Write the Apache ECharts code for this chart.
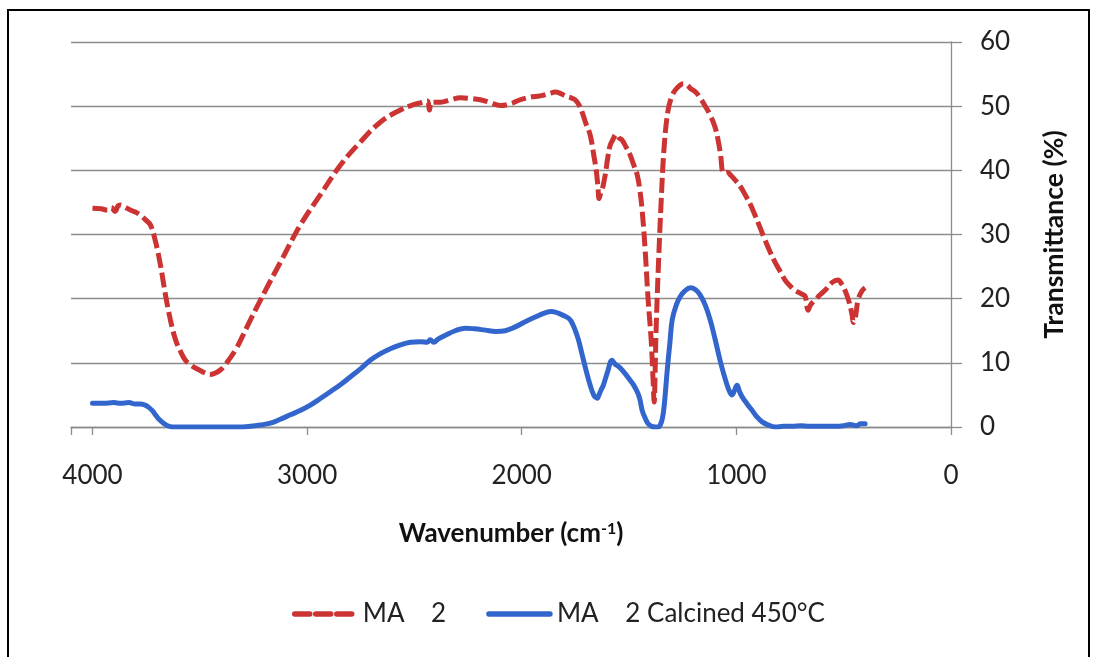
<!DOCTYPE html>
<html>
<head>
<meta charset="utf-8">
<script src="https://cdn.jsdelivr.net/npm/echarts@6/dist/echarts.min.js"></script>
<style>
html,body{margin:0;padding:0;background:#fff;}
#chart{width:1096px;height:657px;}
</style>
</head>
<body>
<div id="chart"></div>
<script>
// ---- data ----
const seriesNames = ['MA    2', 'MA    2 Calcined 450°C'];
const xTicks = [0, 1000, 2000, 3000, 4000];
const yTicks = [0, 10, 20, 30, 40, 50, 60];

const maX = [4000, 3960, 3930, 3912, 3895, 3880, 3870, 3850, 3823, 3800, 3776, 3750, 3730, 3707, 3683, 3660, 3637, 3613, 3590, 3567, 3540, 3520, 3474, 3450, 3427, 3400, 3381, 3334, 3300, 3264, 3194, 3124, 3031, 2938, 2845, 2752, 2659, 2566, 2500, 2473, 2440, 2430, 2420, 2380, 2330, 2286, 2240, 2193, 2150, 2100, 2050, 2007, 1960, 1914, 1870, 1844, 1820, 1797, 1770, 1751, 1730, 1714, 1700, 1681, 1665, 1653, 1645, 1640, 1634, 1625, 1611, 1600, 1588, 1575, 1560, 1545, 1532, 1515, 1495, 1480, 1462, 1450, 1439, 1425, 1411, 1397, 1388, 1383, 1378, 1374, 1364, 1350, 1336, 1318, 1300, 1285, 1265, 1248, 1230, 1215, 1190, 1169, 1145, 1122, 1100, 1085, 1072, 1066, 1058, 1043, 1025, 1006, 980, 959, 935, 913, 890, 866, 843, 820, 795, 773, 750, 727, 700, 680, 666, 655, 633, 610, 587, 555, 526, 510, 494, 475, 461, 455, 445, 433, 415, 400];
const maY = [34.1, 34.0, 33.8, 34.2, 33.6, 34.5, 34.6, 34.3, 33.8, 33.5, 33.0, 32.2, 31.5, 29.0, 25.2, 20.6, 16.7, 13.6, 11.8, 10.4, 9.6, 9.2, 8.4, 8.2, 8.4, 9.0, 9.7, 12.0, 14.2, 16.7, 21.3, 25.7, 31.5, 36.2, 40.8, 44.4, 47.5, 49.4, 50.3, 50.5, 50.8, 49.4, 50.6, 50.6, 51.0, 51.3, 51.2, 51.0, 50.6, 50.1, 50.4, 51.0, 51.4, 51.6, 52.0, 52.2, 52.0, 51.6, 51.3, 51.0, 50.0, 48.6, 47.2, 45.5, 42.5, 40.0, 37.5, 35.6, 36.2, 37.0, 39.3, 41.8, 43.9, 44.8, 45.6, 45.0, 44.7, 43.7, 42.4, 41.0, 39.3, 37.0, 33.8, 27.6, 19.8, 13.6, 7.3, 3.9, 9.5, 15.1, 24.5, 35.4, 43.9, 49.4, 51.6, 52.5, 53.2, 53.5, 53.3, 52.8, 52.2, 51.3, 50.0, 48.6, 46.8, 44.7, 42.0, 40.0, 39.6, 39.7, 39.2, 38.5, 37.4, 36.2, 34.7, 33.0, 31.1, 29.1, 27.3, 25.7, 24.2, 22.9, 22.0, 21.3, 20.8, 20.4, 18.2, 19.0, 19.8, 20.6, 21.3, 22.5, 22.9, 22.3, 21.3, 19.5, 17.5, 16.3, 17.2, 19.8, 21.2, 21.7];

const calX = [4000, 3950, 3900, 3870, 3830, 3800, 3776, 3755, 3739, 3720, 3707, 3690, 3669, 3650, 3627, 3600, 3500, 3400, 3300, 3264, 3220, 3171, 3125, 3078, 3030, 2985, 2940, 2892, 2845, 2799, 2750, 2706, 2660, 2612, 2565, 2519, 2470, 2440, 2426, 2410, 2390, 2356, 2310, 2263, 2220, 2170, 2120, 2077, 2030, 1984, 1940, 1891, 1860, 1844, 1820, 1800, 1784, 1770, 1751, 1735, 1718, 1700, 1681, 1665, 1655, 1648, 1640, 1630, 1620, 1600, 1579, 1565, 1555, 1541, 1520, 1495, 1480, 1462, 1450, 1439, 1425, 1411, 1395, 1378, 1365, 1355, 1345, 1336, 1322, 1310, 1299, 1280, 1262, 1240, 1215, 1190, 1169, 1145, 1122, 1100, 1076, 1060, 1043, 1030, 1020, 1010, 997, 985, 973, 950, 927, 905, 880, 850, 820, 780, 740, 700, 660, 620, 580, 540, 500, 470, 440, 420, 400];
const calY = [3.7, 3.7, 3.8, 3.7, 3.8, 3.6, 3.6, 3.4, 3.1, 2.5, 1.9, 1.2, 0.6, 0.2, 0.0, 0.0, 0.0, 0.0, 0.0, 0.1, 0.3, 0.6, 1.2, 1.9, 2.6, 3.4, 4.4, 5.5, 6.6, 7.8, 9.1, 10.4, 11.4, 12.2, 12.8, 13.2, 13.3, 13.2, 13.6, 13.2, 13.7, 14.3, 15.0, 15.4, 15.3, 15.1, 14.9, 15.0, 15.6, 16.4, 17.1, 17.8, 18.0, 17.9, 17.6, 17.3, 17.0, 16.5, 15.1, 13.5, 11.2, 8.8, 6.5, 5.0, 4.6, 4.5, 5.0, 5.8, 6.5, 8.6, 10.4, 9.8, 9.6, 9.2, 8.4, 7.3, 6.6, 5.5, 4.4, 2.6, 1.4, 0.5, 0.1, 0.0, 0.0, 0.3, 1.3, 3.4, 8.9, 13.0, 16.7, 19.0, 20.3, 21.2, 21.7, 21.4, 20.6, 19.0, 16.7, 13.8, 10.4, 8.4, 6.5, 5.4, 5.0, 5.6, 6.5, 5.5, 4.7, 3.6, 2.6, 1.6, 0.8, 0.3, 0.0, 0.1, 0.1, 0.2, 0.1, 0.1, 0.1, 0.1, 0.2, 0.4, 0.2, 0.5, 0.5];

// ---- chart ----
const pairs = (xs, ys) => xs.map((x, i) => [x, ys[i]]);
const FONT = 'Lato';
const RED = '#CC3333';
const BLUE = '#3366CC';
const GRID_GREY = '#8C8C8C';

const chart = echarts.init(document.getElementById('chart'), null, {renderer: 'canvas'});
chart.setOption({
  animation: false,
  backgroundColor: '#fff',
  textStyle: {fontFamily: FONT},
  graphic: [{
    type: 'polyline',
    shape: {points: [[8, 700], [8, 10], [1089, 10], [1089, 700]]},
    style: {stroke: '#000', lineWidth: 2, fill: null},
    silent: true
  }],
  grid: {left: 71, right: 145, top: 42, bottom: 230},
  legend: {
    bottom: 25,
    left: 287,
    itemWidth: 61,
    itemHeight: 1,
    itemGap: 40,
    textStyle: {fontFamily: FONT, fontSize: 26, color: '#222', padding: [0, 0, 0, 2]},
    data: [
      {name: seriesNames[0], lineStyle: {width: 5.5, type: [15, 6], cap: 'round'}},
      {name: seriesNames[1], lineStyle: {width: 5.5, cap: 'round'}}
    ]
  },
  xAxis: {
    type: 'value',
    inverse: true,
    min: 0,
    max: 4100,
    interval: 1000,
    name: 'Wavenumber (cm{sup|-1})',
    nameLocation: 'middle',
    nameGap: 94,
    nameTextStyle: {
      fontFamily: FONT, fontSize: 26, fontWeight: 'bold', color: '#111',
      rich: {sup: {fontFamily: FONT, fontSize: 16, fontWeight: 'bold', color: '#111', verticalAlign: 'top', padding: [0, 0, 10, 0]}}
    },
    axisLine: {show: true, lineStyle: {color: GRID_GREY, width: 1.3}},
    axisTick: {show: true, inside: false, length: 8, lineStyle: {color: GRID_GREY, width: 1.3}},
    splitLine: {show: false},
    axisLabel: {
      margin: 36,
      fontFamily: FONT, fontSize: 26, color: '#222',
      formatter: v => (xTicks.indexOf(v) >= 0 ? String(v) : '')
    }
  },
  yAxis: {
    type: 'value',
    position: 'right',
    min: 0,
    max: 60,
    interval: 10,
    name: 'Transmittance (%)',
    nameLocation: 'middle',
    nameRotate: 90,
    nameGap: 90,
    nameTextStyle: {fontFamily: FONT, fontSize: 26.5, fontWeight: 'bold', color: '#111'},
    axisLine: {show: true, lineStyle: {color: GRID_GREY, width: 1.3}},
    axisTick: {show: true, inside: false, length: 11, lineStyle: {color: GRID_GREY, width: 1.3}},
    splitLine: {show: true, lineStyle: {color: GRID_GREY, width: 1.3}},
    axisLabel: {
      margin: 29,
      fontFamily: FONT, fontSize: 26, color: '#222',
      formatter: v => (yTicks.indexOf(v) >= 0 ? String(v) : '')
    }
  },
  series: [
    {
      name: seriesNames[0],
      type: 'line',
      data: pairs(maX, maY),
      showSymbol: false,
      symbol: 'none',
      smooth: 0.4,
      lineStyle: {color: RED, width: 5, type: [15, 5], cap: 'butt'},
      itemStyle: {color: RED}
    },
    {
      name: seriesNames[1],
      type: 'line',
      data: pairs(calX, calY),
      showSymbol: false,
      symbol: 'none',
      smooth: 0.4,
      lineStyle: {color: BLUE, width: 5, cap: 'round'},
      itemStyle: {color: BLUE}
    }
  ]
});
</script>
</body>
</html>
